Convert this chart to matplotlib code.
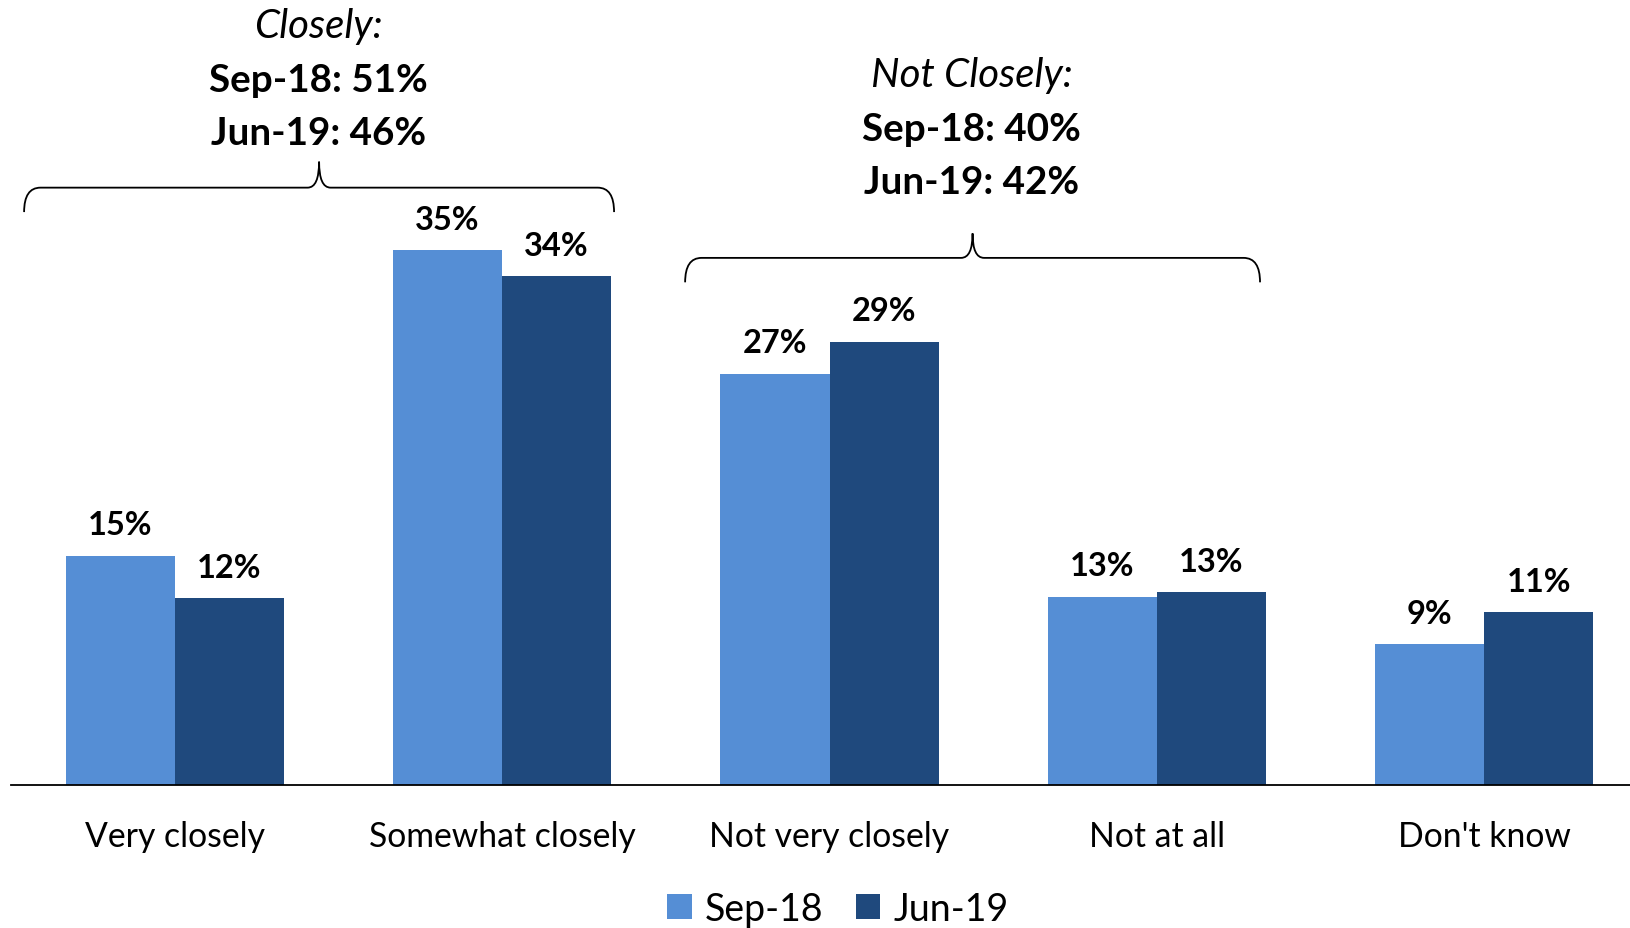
import matplotlib
matplotlib.use("Agg")
import matplotlib.pyplot as plt
from matplotlib.path import Path
from matplotlib.patches import PathPatch
import numpy as np

plt.rcParams['font.family'] = ['Lato', 'DejaVu Sans']

# data (percent)
categories = ["Very closely", "Somewhat closely", "Not very closely", "Not at all", "Don't know"]
sep18 = [15.0, 35.0, 26.9, 12.3, 9.2]
jun19 = [12.2, 33.3, 29.0, 12.6, 11.3]
sep18_labels = ["15%", "35%", "27%", "13%", "9%"]
jun19_labels = ["12%", "34%", "29%", "13%", "11%"]
series_names = ["Sep-18", "Jun-19"]

group_titles = ["Closely:", "Not Closely:"]
group_lines = [["Sep-18: 51%", "Jun-19: 46%"], ["Sep-18: 40%", "Jun-19: 42%"]]

col_sep = '#558ED5'
col_jun = '#1F497D'

W, H = 1630, 929
fig = plt.figure(figsize=(W / 100, H / 100), dpi=100)
ax = fig.add_axes([11 / W, (H - 785.7) / H, (W - 11) / W, 785.7 / H])

x = np.arange(len(categories))
bw = 0.3335
b1 = ax.bar(x - bw / 2, sep18, bw, color=col_sep, label=series_names[0])
b2 = ax.bar(x + bw / 2, jun19, bw, color=col_jun, label=series_names[1])

for bars, labs in [(b1, sep18_labels), (b2, jun19_labels)]:
    for r, t in zip(bars, labs):
        ax.annotate(t, (r.get_x() + r.get_width() / 2, r.get_height()),
                    xytext=(0, 15.5), textcoords='offset points',
                    ha='center', va='baseline', fontsize=23.5, fontweight='bold')

ax.set_xlim(-0.5, 4.445)
ax.set_ylim(0, 785.7 / 15.27)
ax.set_xticks(x)
ax.set_xticklabels(categories, fontsize=24.3)
ax.tick_params(axis='x', length=0, pad=25.5)
ax.set_yticks([])
for s in ['top', 'right', 'left']:
    ax.spines[s].set_visible(False)
ax.spines['bottom'].set_linewidth(1.3)


def brace(x0, x1, y_end, y_h, y_peak, r=0.05, rm=0.035):
    xm = (x0 + x1) / 2
    verts = [(x0, y_end), (x0, y_h), (x0 + r, y_h),
             (xm - rm, y_h), (xm, y_h), (xm, y_peak),
             (xm, y_h), (xm + rm, y_h),
             (x1 - r, y_h), (x1, y_h), (x1, y_end)]
    codes = [Path.MOVETO, Path.CURVE3, Path.CURVE3,
             Path.LINETO, Path.CURVE3, Path.CURVE3,
             Path.CURVE3, Path.CURVE3,
             Path.LINETO, Path.CURVE3, Path.CURVE3]
    ax.add_patch(PathPatch(Path(verts, codes), fill=False, lw=1.3,
                           edgecolor='black', clip_on=False))


brace(-0.46, 1.342, 37.5, 39.1, 40.8)
brace(1.559, 3.315, 32.9, 34.5, 36.1)

title_pos = [(0.44, [49.7, 46.2, 42.7]), (2.435, [46.5, 43.0, 39.5])]
for (gx, ys), title, lines in zip(title_pos, group_titles, group_lines):
    ax.text(gx, ys[0], title, ha='center', va='center', fontsize=29, style='italic')
    for yy, ln in zip(ys[1:], lines):
        ax.text(gx, yy, ln, ha='center', va='center', fontsize=27.8, fontweight='bold')

fig.legend(handles=[b1, b2], loc='center', bbox_to_anchor=(838 / W, 19 / H),
           ncol=2, frameon=False, fontsize=27, handlelength=0.66, handleheight=0.66,
           handletextpad=0.35, columnspacing=0.85, borderaxespad=0)

fig.savefig('out.png', dpi=100)
